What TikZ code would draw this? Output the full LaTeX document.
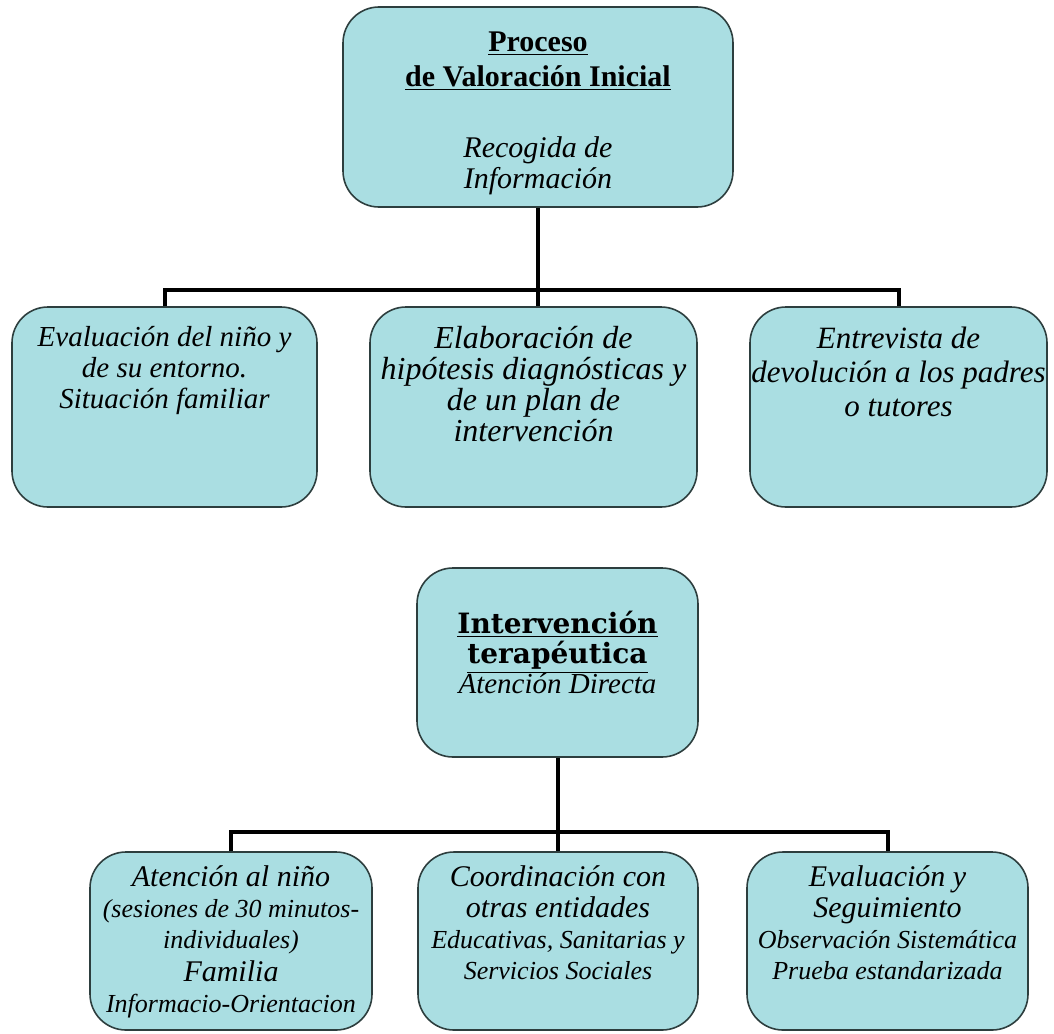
\documentclass[tikz,border=0pt]{standalone}
\usepackage{fontspec}
\setmainfont{Liberation Serif}
\newfontfamily\slabfont{DejaVu Serif}
\usetikzlibrary{positioning}
\definecolor{boxfill}{RGB}{170,222,226}
\definecolor{boxline}{RGB}{45,62,62}
\newcommand{\bigit}{\fontsize{15}{15.5}\selectfont}
\newcommand{\slabbf}{\slabfont\bfseries\upshape\fontsize{14}{15}\selectfont}
\tikzset{
  box/.style={draw=boxline, line width=0.8pt, fill=boxfill, rounded corners=18pt, inner sep=0pt},
  txt/.style={align=center, font=\itshape\fontsize{14.5}{15.5}\selectfont, inner sep=0pt},
  smalltxt/.style={align=center, font=\itshape\fontsize{13}{15.5}\selectfont, inner sep=0pt},
  link/.style={line width=2pt, black},
}
\begin{document}
\begin{tikzpicture}[x=0.5pt,y=-0.5pt]
    \useasboundingbox (0,0) rectangle (1054,1033);
    %% valoracion inicial
    \node[box, minimum width=195pt, minimum height=100pt] (proc) at (538,107) {};
    \node[txt, font=\itshape\fontsize{15}{15.5}\selectfont] (proctxt) at ([yshift=-3pt]proc.center)
        {\textbf{\upshape\underline{Proceso}}\\[2pt]
        \textbf{\upshape\underline{de Valoración Inicial}}\\[20pt] Recogida de\\ Información};
    %% first row
    \node[box, minimum width=152.5pt, minimum height=100pt] (eval) at (164.5,407) {};
    \node[box, minimum width=163.5pt, minimum height=100pt] (hip) at (533.5,407) {};
    \node[box, minimum width=148.5pt, minimum height=100pt] (entr) at (898.5,407) {};
    \node[txt, anchor=north] (evaltxt) at ([yshift=-10pt]eval.north) {Evaluación del niño y\\ de su entorno.\\ Situación familiar};
    \node[txt, anchor=north, font=\itshape\fontsize{16}{15.5}\selectfont] (hiptxt) at ([yshift=-10pt]hip.north)
        {Elaboración de\\ hipótesis diagnósticas y\\ de un plan de\\ intervención};
    \node[txt, anchor=north, font=\itshape\fontsize{15.5}{15.5}\selectfont] (entrtxt) at ([yshift=-10pt]entr.north)
        {Entrevista de\\[1.5pt] devolución a los padres\\[1.5pt] o tutores};
    \coordinate (bus1) at (538,290);
    \draw[link] (proc.south) -- (bus1);
    \draw[link] (eval.north) |- (bus1) -| (entr.north);
    \draw[link] (bus1) -- (bus1 |- hip.north);
    %% intervencion terapeutica
    \node[box, minimum width=140.5pt, minimum height=94.5pt] (interv) at (557.5,662.5) {};
    \node[txt, font=\itshape\fontsize{14.5}{15}\selectfont] (intervtxt) at ([yshift=5pt]interv.center)
        {\slabbf\underline{Intervención}\\ \slabbf\underline{terapéutica}\\ Atención Directa};
    %% second row
    \node[box, minimum width=141pt, minimum height=89pt] (aten) at (231,941) {};
    \node[box, minimum width=140pt, minimum height=89pt] (coord) at (558,941) {};
    \node[box, minimum width=140.5pt, minimum height=89pt] (evsg) at (887.5,941) {};
    \node[smalltxt, anchor=north] (atentxt) at ([yshift=-7pt]aten.north) {\bigit Atención al niño\\
        (sesiones de 30 minutos-\\ individuales)\\[1pt] \bigit Familia\\ Informacio-Orientacion};
    \node[smalltxt, anchor=north] (coordtxt) at ([yshift=-7pt]coord.north) {\bigit Coordinación con\\
        \bigit otras entidades\\ Educativas, Sanitarias y\\ Servicios Sociales};
    \node[smalltxt, anchor=north] (evsgtxt) at ([yshift=-7pt]evsg.north) {\bigit Evaluación y\\
        \bigit Seguimiento\\ Observación Sistemática\\ Prueba estandarizada};
    \coordinate (bus2) at (558,832);
    \draw[link] (interv.south) -- (interv.south |- coord.north);
    \draw[link] (aten.north) |- (bus2) -| (evsg.north);
\end{tikzpicture}
\end{document}
